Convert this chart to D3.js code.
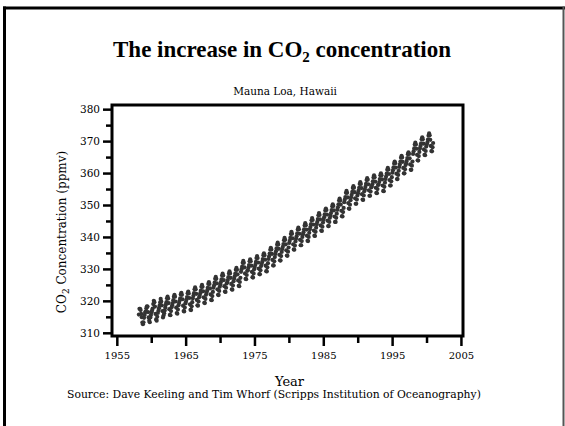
<!DOCTYPE html>
<html>
<head>
<meta charset="utf-8">
<script src="https://cdn.jsdelivr.net/npm/d3@7/dist/d3.min.js"></script>
<style>
  html, body { margin: 0; padding: 0; background: #fff; }
  svg { display: block; }
</style>
</head>
<body>
<svg id="chart" width="565" height="426"></svg>
<script>
// ---------- DATA ----------
const titleText = "The increase in CO";
const subtitleText = "Mauna Loa, Hawaii";
const xLabelText = "Year";
const sourceText = "Source: Dave Keeling and Tim Whorf (Scripps Institution of Oceanography)";

const xMajorTicks = [1955, 1965, 1975, 1985, 1995, 2005];
const xMinorTicks = [1960, 1970, 1980, 1990, 2000];
const yMajorTicks = [310, 320, 330, 340, 350, 360, 370, 380];
const yMinorTicks = [315, 325, 335, 345, 355, 365, 375];

const years = [1958,1959,1960,1961,1962,1963,1964,1965,1966,1967,1968,1969,1970,1971,1972,1973,1974,1975,1976,1977,1978,1979,1980,1981,1982,1983,1984,1985,1986,1987,1988,1989,1990,1991,1992,1993,1994,1995,1996,1997,1998,1999,2000];

// monthly CO2 (ppmv), Jan..Dec for each year
const co2Monthly = [
  [null,null,315.7,317.5,317.5,317.1,315.9,314.9,313.2,312.7,313.3,314.7],
  [315.6,316.4,316.7,317.7,318.3,318.2,316.5,314.8,313.8,313.3,314.8,315.6],
  [316.4,317.0,317.6,319.0,320.0,319.6,318.2,315.9,314.2,313.8,315.0,316.2],
  [316.9,317.7,318.5,319.5,320.6,319.8,318.6,316.8,314.8,315.4,316.1,317.0],
  [317.9,318.8,319.6,320.8,321.3,320.7,319.3,317.4,315.6,315.5,316.8,318.0],
  [318.6,319.3,320.2,321.3,321.9,321.3,319.8,317.9,316.2,316.0,317.3,318.6],
  [319.3,320.0,320.8,322.0,322.5,321.9,320.5,318.5,316.8,316.7,317.9,319.2],
  [319.7,320.4,321.2,322.4,322.9,322.3,320.9,318.9,317.2,317.1,318.3,319.6],
  [320.8,321.6,322.4,323.6,324.2,323.6,322.2,320.3,318.6,318.5,319.8,321.1],
  [321.6,322.4,323.2,324.4,325.0,324.4,323.0,321.1,319.4,319.3,320.6,321.9],
  [322.5,323.2,324.1,325.3,325.9,325.3,323.9,322.0,320.3,320.2,321.5,322.8],
  [324.1,324.8,325.7,326.9,327.5,326.9,325.5,323.6,321.9,321.8,323.1,324.4],
  [325.1,325.9,326.7,327.9,328.5,327.9,326.5,324.6,322.9,322.8,324.1,325.4],
  [325.8,326.5,327.4,328.6,329.2,328.6,327.2,325.3,323.6,323.5,324.8,326.1],
  [326.9,327.7,328.5,329.7,330.3,329.7,328.3,326.4,324.7,324.6,325.9,327.2],
  [329.1,329.9,330.7,331.9,332.5,331.9,330.5,328.6,326.9,326.8,328.1,329.4],
  [329.6,330.4,331.2,332.4,333.0,332.4,331.0,329.1,327.4,327.3,328.6,329.9],
  [330.6,331.3,332.2,333.4,334.0,333.4,332.0,330.1,328.4,328.3,329.6,330.9],
  [331.5,332.2,333.1,334.3,334.9,334.3,332.9,331.0,329.3,329.2,330.5,331.8],
  [333.1,333.9,334.8,336.0,336.6,336.1,334.7,332.8,331.1,331.1,332.4,333.7],
  [334.7,335.5,336.4,337.6,338.2,337.6,336.3,334.4,332.7,332.6,334.0,335.3],
  [336.2,336.9,337.8,339.0,339.7,339.1,337.7,335.8,334.2,334.1,335.4,336.7],
  [338.1,338.8,339.7,340.9,341.6,341.0,339.6,337.7,336.1,336.0,337.3,338.6],
  [339.4,340.2,341.1,342.3,342.9,342.4,341.0,339.1,337.4,337.4,338.7,340.0],
  [340.8,341.5,342.4,343.6,344.3,343.7,342.3,340.4,338.8,338.7,340.0,341.3],
  [342.4,343.1,344.0,345.2,345.9,345.3,343.9,342.0,340.4,340.3,341.6,342.9],
  [344.0,344.7,345.6,346.8,347.5,346.9,345.5,343.6,342.0,341.9,343.2,344.5],
  [345.4,346.2,347.1,348.3,348.9,348.4,347.0,345.1,343.4,343.4,344.7,346.0],
  [346.7,347.5,348.4,349.6,350.2,349.7,348.3,346.4,344.7,344.7,346.0,347.3],
  [348.5,349.3,350.2,351.4,352.0,351.4,350.1,348.2,346.5,346.4,347.8,349.1],
  [350.9,351.7,352.5,353.8,354.4,353.8,352.4,350.6,348.9,348.8,350.1,351.5],
  [352.4,353.2,354.1,355.3,355.9,355.4,354.0,352.1,350.4,350.4,351.7,353.0],
  [353.7,354.5,355.4,356.6,357.2,356.6,355.3,353.4,351.7,351.6,353.0,354.3],
  [354.9,355.7,356.6,357.8,358.4,357.9,356.5,354.6,352.9,352.9,354.2,355.5],
  [355.8,356.5,357.4,358.6,359.3,358.7,357.3,355.4,353.8,353.7,355.0,356.3],
  [356.4,357.2,358.1,359.3,359.9,359.3,358.0,356.1,354.4,354.3,355.7,357.0],
  [358.1,358.9,359.8,361.0,361.6,361.1,359.7,357.8,356.1,356.1,357.4,358.7],
  [360.1,360.9,361.8,363.0,363.6,363.1,361.7,359.8,358.1,358.1,359.4,360.7],
  [361.9,362.7,363.6,364.8,365.4,364.9,363.5,361.6,359.9,359.9,361.2,362.5],
  [363.0,363.8,364.7,365.9,366.5,366.0,364.6,362.7,361.0,361.0,362.3,363.6],
  [366.0,366.8,367.7,368.9,369.5,368.9,367.6,365.7,364.0,363.9,365.3,366.6],
  [367.7,368.5,369.3,370.6,371.2,370.6,369.2,367.4,365.7,365.6,366.9,368.3],
  [368.9,369.6,370.5,371.7,372.4,371.8,370.4,368.5,366.9,366.8,368.1,369.4]
];

// ---------- LAYOUT ----------
const svg = d3.select("#chart");
const plot = { left: 112, right: 463, top: 105, bottom: 336 };
const x = d3.scaleLinear().domain([1954.3, 2005.3]).range([plot.left, plot.right]);
const y = d3.scaleLinear().domain([309, 381.3]).range([plot.bottom, plot.top]);
const chartFont = "'DejaVu Serif', serif";

// slide border
svg.append("line").attr("x1", 4.5).attr("x2", 4.5).attr("y1", 6.5).attr("y2", 426)
  .attr("stroke", "#000").attr("stroke-width", 3);
svg.append("line").attr("x1", 3).attr("x2", 565).attr("y1", 8).attr("y2", 8)
  .attr("stroke", "#000").attr("stroke-width", 3);
svg.append("line").attr("x1", 563.5).attr("x2", 563.5).attr("y1", 6.5).attr("y2", 426)
  .attr("stroke", "#555").attr("stroke-width", 2);

// title
const title = svg.append("text").attr("x", 282).attr("y", 57)
  .attr("text-anchor", "middle")
  .style("font-family", "'Liberation Serif', 'Times New Roman', serif")
  .style("font-weight", "bold").style("font-size", "23px").attr("fill", "#000");
title.append("tspan").text(titleText);
title.append("tspan").text("2").attr("dy", 5).style("font-size", "15px");
title.append("tspan").text(" concentration").attr("dy", -5);

// subtitle
svg.append("text").attr("x", 285).attr("y", 95).attr("text-anchor", "middle")
  .style("font-family", chartFont).style("font-size", "10.5px").attr("fill", "#000")
  .text(subtitleText);

// data points
const points = [];
years.forEach((yr, i) => {
  co2Monthly[i].forEach((v, m) => {
    if (v !== null) points.push({ t: yr + (m + 0.5) / 12, v });
  });
});
svg.append("g").selectAll("circle").data(points).join("circle")
  .attr("cx", d => x(d.t)).attr("cy", d => y(d.v)).attr("r", 2.1)
  .attr("fill", "#333");

// axes
const yAxisMajor = d3.axisLeft(y).tickValues(yMajorTicks).tickSize(9).tickPadding(3)
  .tickFormat(d3.format("d"));
const yAxisMinor = d3.axisLeft(y).tickValues(yMinorTicks).tickSize(6).tickFormat("");
const xAxisMajor = d3.axisBottom(x).tickValues(xMajorTicks).tickSize(10).tickPadding(6)
  .tickFormat(d3.format("d"));
const xAxisMinor = d3.axisBottom(x).tickValues(xMinorTicks).tickSize(7).tickFormat("");

function styleAxis(g, size) {
  g.select(".domain").remove();
  g.selectAll(".tick line").attr("stroke", "#000").attr("stroke-width", 2.5);
  g.selectAll(".tick text").style("font-family", chartFont).style("font-size", size)
    .attr("fill", "#000");
}
svg.append("g").attr("transform", `translate(${plot.left},0)`).call(yAxisMajor).call(styleAxis, "10.5px");
svg.append("g").attr("transform", `translate(${plot.left},0)`).call(yAxisMinor).call(styleAxis, "10.5px");
svg.append("g").attr("transform", `translate(0,${plot.bottom})`).call(xAxisMajor).call(styleAxis, "10px");
svg.append("g").attr("transform", `translate(0,${plot.bottom})`).call(xAxisMinor).call(styleAxis, "10px");

// frame
svg.append("rect").attr("x", plot.left).attr("y", plot.top)
  .attr("width", plot.right - plot.left).attr("height", plot.bottom - plot.top)
  .attr("fill", "none").attr("stroke", "#000").attr("stroke-width", 3);

// y label
const yl = svg.append("text").attr("transform", "translate(66,232) rotate(-90)")
  .attr("text-anchor", "middle")
  .style("font-family", chartFont).style("font-size", "12px").attr("fill", "#000");
yl.append("tspan").text("CO");
yl.append("tspan").text("2").attr("dy", 3).style("font-size", "9px");
yl.append("tspan").text(" Concentration (ppmv)").attr("dy", -3);

// x label
svg.append("text").attr("x", 289.5).attr("y", 386).attr("text-anchor", "middle")
  .style("font-family", chartFont).style("font-size", "13px").attr("fill", "#000")
  .text(xLabelText);

// source
svg.append("text").attr("x", 67).attr("y", 398)
  .style("font-family", chartFont).style("font-size", "10.8px").attr("fill", "#000")
  .text(sourceText);
</script>
</body>
</html>
